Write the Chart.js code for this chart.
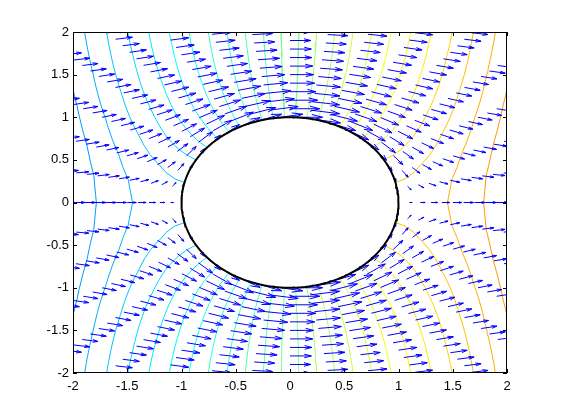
<!DOCTYPE html>
<html>
<head>
<meta charset="utf-8">
<script src="https://cdn.jsdelivr.net/npm/chart.js@4.4.0/dist/chart.umd.min.js"></script>
<style>
    html, body { margin: 0; padding: 0; background: #fff; }
</style>
</head>
<body>
<canvas id="flowChart" width="561" height="420"></canvas>
<script>
// Axis ticks
const xTicks = [-2, -1.5, -1, -0.5, 0, 0.5, 1, 1.5, 2];
const yTicks = [-2, -1.5, -1, -0.5, 0, 0.5, 1, 1.5, 2];

// Polar sampling grid of the flow: radius and angle (degrees)
const radii = [1, 1.1, 1.2, 1.3, 1.4, 1.5, 1.6, 1.7, 1.8, 1.9, 2,
               2.1, 2.2, 2.3, 2.4, 2.5, 2.6, 2.7, 2.8, 2.9, 3];
const anglesDeg = [0, 10, 20, 30, 40, 50, 60, 70, 80, 90, 100, 110, 120,
                   130, 140, 150, 160, 170, 180, 190, 200, 210, 220, 230, 240,
                   250, 260, 270, 280, 290, 300, 310, 320, 330, 340, 350, 360];

// Potential values of the drawn contour lines
const contourLevels = [-2.345, -2.141, -1.937, -1.733, -1.529, -1.325, -1.121,
                       -0.918, -0.714, -0.510, -0.306, -0.102,
                       0.102, 0.306, 0.510, 0.714, 0.918, 1.121,
                       1.325, 1.529, 1.733, 1.937, 2.141, 2.345];

// Free stream speed and cylinder radius
const streamSpeed = 1;
const cylinderRadius = 1;

// Styling
const colorLimit = 5.2;
const arrowScale = 0.15;
const tickLen = 4;

// Flow past a cylinder
function potential(x, y) {
    const r2 = x * x + y * y;
    return streamSpeed * x * (1 + cylinderRadius * cylinderRadius / r2);
}
function velocity(x, y) {
    const r2 = x * x + y * y;
    const a2 = cylinderRadius * cylinderRadius;
    return [streamSpeed * (1 - a2 * (x * x - y * y) / (r2 * r2)),
            -streamSpeed * 2 * a2 * x * y / (r2 * r2)];
}

// Grid nodes
const nodes = radii.map(r => anglesDeg.map(d => {
    const t = d * Math.PI / 180;
    const x = r * Math.cos(t), y = r * Math.sin(t);
    return {x: x, y: y, phi: potential(x, y)};
}));

function jet(t) {
    const c = v => Math.round(255 * Math.max(0, Math.min(1, v)));
    return 'rgb(' + c(Math.min(4 * t - 1.5, -4 * t + 4.5)) + ',' +
        c(Math.min(4 * t - 0.5, -4 * t + 3.5)) + ',' +
        c(Math.min(4 * t + 0.5, -4 * t + 2.5)) + ')';
}

// Marching squares on the polar grid
function contourSegments(level) {
    const pts = [];
    const cross = (a, b) => {
        if ((a.phi < level) === (b.phi < level)) return null;
        const f = (level - a.phi) / (b.phi - a.phi);
        return {x: a.x + f * (b.x - a.x), y: a.y + f * (b.y - a.y)};
    };
    for (let i = 0; i < radii.length - 1; i++) {
        for (let j = 0; j < anglesDeg.length - 1; j++) {
            const p00 = nodes[i][j], p10 = nodes[i + 1][j];
            const p11 = nodes[i + 1][j + 1], p01 = nodes[i][j + 1];
            const hits = [cross(p00, p10), cross(p10, p11), cross(p11, p01), cross(p01, p00)]
                .filter(h => h);
            for (let k = 0; k + 1 < hits.length; k += 2) {
                pts.push(hits[k], hits[k + 1], {x: hits[k].x, y: null});
            }
        }
    }
    return pts;
}

const contourDatasets = contourLevels.map(level => ({
    data: contourSegments(level),
    borderColor: jet((level + colorLimit) / (2 * colorLimit)),
    borderWidth: 1,
    order: 3
}));

// Quiver arrows (MATLAB style heads)
const arrowPts = [];
nodes.forEach(row => row.slice(0, -1).forEach(n => {
    const v = velocity(n.x, n.y);
    const u = v[0] * arrowScale, w = v[1] * arrowScale;
    const tx = n.x + u, ty = n.y + w;
    const al = 0.33, be = 0.33;
    arrowPts.push({x: n.x, y: n.y}, {x: tx, y: ty}, {x: tx, y: null});
    arrowPts.push({x: tx - al * (u + be * w), y: ty - al * (w - be * u)},
                  {x: tx, y: ty},
                  {x: tx - al * (u - be * w), y: ty - al * (w + be * u)},
                  {x: tx, y: null});
}));

// Cylinder outline
const circlePts = [];
for (let d = 0; d <= 360; d += 2) {
    const t = d * Math.PI / 180;
    circlePts.push({x: cylinderRadius * Math.cos(t), y: cylinderRadius * Math.sin(t)});
}

const matlabBox = {
    id: 'matlabBox',
    afterDraw(chart) {
        const {ctx, chartArea: a, scales} = chart;
        ctx.save();
        ctx.strokeStyle = '#000';
        ctx.lineWidth = 1;
        ctx.strokeRect(a.left + 0.5, a.top + 0.5, a.right - a.left - 1, a.bottom - a.top - 1);
        ctx.beginPath();
        xTicks.forEach(v => {
            const px = Math.round(scales.x.getPixelForValue(v)) + 0.5;
            ctx.moveTo(px, a.bottom); ctx.lineTo(px, a.bottom - tickLen);
            ctx.moveTo(px, a.top); ctx.lineTo(px, a.top + tickLen);
        });
        yTicks.forEach(v => {
            const py = Math.round(scales.y.getPixelForValue(v)) + 0.5;
            ctx.moveTo(a.left, py); ctx.lineTo(a.left + tickLen, py);
            ctx.moveTo(a.right, py); ctx.lineTo(a.right - tickLen, py);
        });
        ctx.stroke();
        ctx.restore();
    }
};

const tickFont = {family: "'Liberation Sans', Arial, sans-serif", size: 13};

new Chart(document.getElementById('flowChart').getContext('2d'), {
    type: 'scatter',
    data: {
        datasets: [
            {data: circlePts, borderColor: '#000', borderWidth: 2, order: 1},
            {data: arrowPts, borderColor: 'rgb(0, 0, 255)', borderWidth: 1, order: 2},
            ...contourDatasets
        ].map(ds => Object.assign(ds, {showLine: true, pointRadius: 0, spanGaps: false, fill: false}))
    },
    options: {
        responsive: false,
        animation: false,
        events: [],
        layout: {padding: {top: 32, right: 54, bottom: 0, left: 0}},
        scales: {
            x: {
                type: 'linear', min: -2, max: 2,
                afterBuildTicks: s => { s.ticks = xTicks.map(v => ({value: v})); },
                afterFit: s => { s.height = 47; },
                grid: {display: false, drawTicks: false},
                border: {display: false},
                ticks: {color: '#000', font: tickFont, padding: 6, maxRotation: 0,
                        autoSkip: false, callback: v => String(v)}
            },
            y: {
                type: 'linear', min: -2, max: 2,
                afterBuildTicks: s => { s.ticks = yTicks.map(v => ({value: v})); },
                afterFit: s => { s.width = 73; },
                grid: {display: false, drawTicks: false},
                border: {display: false},
                ticks: {color: '#000', font: tickFont, padding: 4,
                        autoSkip: false, callback: v => String(v)}
            }
        },
        plugins: {
            legend: {display: false},
            tooltip: {enabled: false}
        }
    },
    plugins: [matlabBox]
});
</script>
</body>
</html>
